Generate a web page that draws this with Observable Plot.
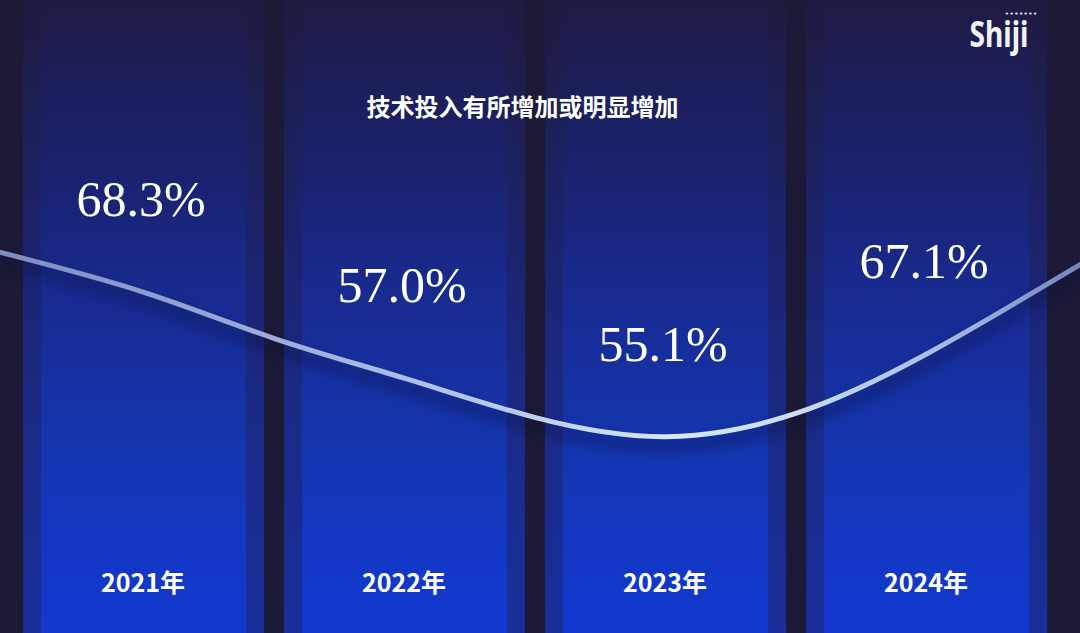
<!DOCTYPE html>
<html>
<head>
<meta charset="utf-8">
<script src="https://cdn.jsdelivr.net/npm/d3@7"></script>
<script src="https://cdn.jsdelivr.net/npm/@observablehq/plot@0.6"></script>
<style>
  html, body { margin: 0; padding: 0; background: #1c1a37; width: 1080px; height: 633px; overflow: hidden; }
  #chart svg { display: block; }
</style>
</head>
<body>
<div id="chart"></div>
<script>
// ---- data ----
const title = "技术投入有所增加或明显增加";
const years = ["2021年", "2022年", "2023年", "2024年"];
const values = [68.3, 57.0, 55.1, 67.1];
// decorative trend curve: position in column units (0 = first column) and level (0–100 of chart height)
const trendPos   = [-0.55, 0,    0.5,  1,    1.5,  2,    2.5,  3,    3.588];
const trendLevel = [60.2,  53.9, 46.6, 40.3, 34.1, 31.1, 34.8, 44.2, 58.3];
const logo = "Shiji";

const cols = years.map((year, i) => ({
  i, year, value: values[i],
  label: values[i].toFixed(1) + "%",
  level: trendLevel[trendPos.indexOf(i)]
}));
const trend = trendPos.map((p, k) => ({ p, level: trendLevel[k] }));

const colHalf = 0.4617, mainHalf = 0.3927;
const cjk = "'Noto Sans CJK SC', 'Noto Sans', sans-serif";

const svg = Plot.plot({
  width: 1080,
  height: 633,
  margin: 0,
  x: { domain: [-0.55, 3.588], axis: null },
  y: { domain: [0, 100], axis: null },
  style: { background: "#1c1a37", overflow: "visible" },
  marks: [
    Plot.rect(cols, { x1: d => d.i - colHalf, x2: d => d.i + colHalf, y1: 0, y2: 100, fill: "url(#stripGrad)" }),
    Plot.rect(cols, { x1: d => d.i - mainHalf, x2: d => d.i + mainHalf, y1: 0, y2: 100, fill: "url(#mainGrad)" }),
    Plot.line(trend, { x: "p", y: "level", curve: "natural", stroke: "url(#lineGrad)", strokeWidth: 5, strokeLinecap: "round" }),
    Plot.text(cols, {
      x: "i", y: "level", text: "label", dy: -76, dx: -3, lineAnchor: "bottom",
      fill: "white", fontSize: 50, fontFamily: "'Liberation Serif', 'Times New Roman', serif"
    }),
    Plot.text(cols, {
      x: "i", frameAnchor: "bottom", text: "year", dy: -42, dx: -1, lineAnchor: "bottom",
      fill: "white", fontSize: 25, fontWeight: "bold", fontFamily: cjk
    }),
    Plot.text([title], {
      text: d => d, frameAnchor: "top", dx: -18, dy: 115, lineAnchor: "bottom",
      fill: "white", fontSize: 24, fontWeight: "bold", fontFamily: cjk
    }),
    Plot.text([logo], {
      text: d => d, frameAnchor: "top-right", textAnchor: "end", dx: -52, dy: 46, lineAnchor: "bottom",
      fill: "#f2f2fa", fontSize: 35, fontWeight: "bold", fontFamily: "'Noto Sans', sans-serif"
    }),
    Plot.text(["•••••••"], {
      text: d => d, frameAnchor: "top-right", textAnchor: "end", dx: -43, dy: 15, lineAnchor: "bottom",
      fill: "#e8e8f4", fontSize: 7, fontFamily: "'DejaVu Sans', sans-serif"
    })
  ]
});

// gradients
const defs = d3.create("svg:defs");
function grad(id, stops, attrs) {
  const g = defs.append("linearGradient").attr("id", id);
  Object.entries(attrs).forEach(([k, v]) => g.attr(k, v));
  stops.forEach(([o, c]) => g.append("stop").attr("offset", o).attr("stop-color", c));
}
grad("mainGrad", [[0, "#1f1b44"], [0.16, "#1c1f5e"], [0.32, "#1a2476"], [0.45, "#182a8e"], [0.7, "#1535ae"], [0.86, "#1337c4"], [1, "#123ad0"]],
  { x1: 0, y1: 0, x2: 0, y2: 1 });
grad("stripGrad", [[0, "#1e1b40"], [0.32, "#1c2266"], [0.5, "#1b2678"], [0.7, "#1a2b8a"], [1, "#192e9a"]],
  { x1: 0, y1: 0, x2: 0, y2: 1 });
grad("lineGrad", [[0, "#7d8cc2"], [0.25, "#9cadd9"], [0.5, "#bdd0f2"], [0.62, "#d6e7fc"], [0.74, "#c9dcf7"], [0.88, "#a5b8e4"], [1, "#7383bb"]],
  { x1: 0, y1: 0, x2: 1080, y2: 0, gradientUnits: "userSpaceOnUse" });
svg.insertBefore(defs.node(), svg.firstChild);

// soft shadow under the trend line
const lineG = svg.querySelector('g[aria-label="line"]');
if (lineG) lineG.style.filter = "drop-shadow(0px 9px 7px rgba(6,8,50,0.75))";

// condense the logo word
const texts = svg.querySelectorAll('g[aria-label="text"]');
const logoText = texts[texts.length - 2] && texts[texts.length - 2].querySelector("text");
if (logoText) { logoText.setAttribute("textLength", 59); logoText.setAttribute("lengthAdjust", "spacingAndGlyphs"); }
const dotText = texts[texts.length - 1] && texts[texts.length - 1].querySelector("text");
if (dotText) { dotText.setAttribute("textLength", 33); dotText.setAttribute("lengthAdjust", "spacingAndGlyphs"); }

document.getElementById("chart").appendChild(svg);
</script>
</body>
</html>
